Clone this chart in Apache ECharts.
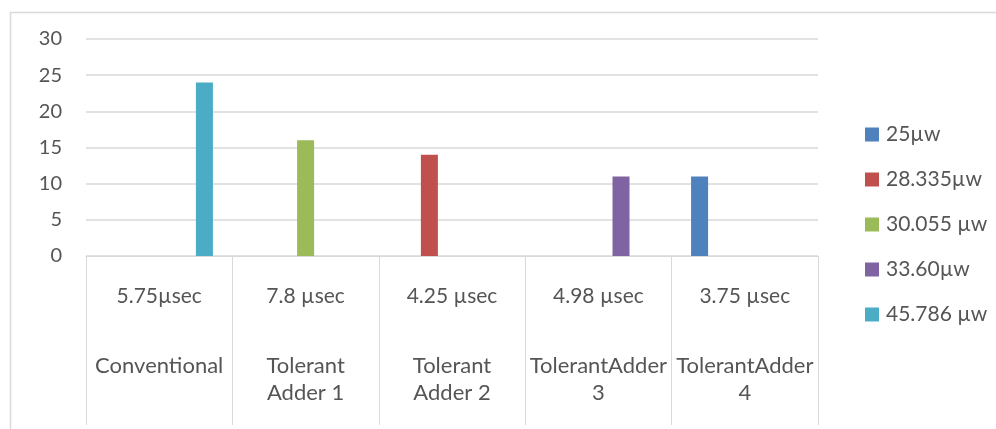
<!DOCTYPE html>
<html>
<head>
<meta charset="utf-8">
<script src="https://cdn.jsdelivr.net/npm/echarts@6/dist/echarts.min.js"></script>
<style>html,body{margin:0;padding:0;background:#fff}#c{width:996px;height:429px}</style>
</head>
<body>
<div id="c"></div>
<script>
const names = ['Conventional', 'Tolerant\nAdder 1', 'Tolerant\nAdder 2', 'TolerantAdder\n3', 'TolerantAdder\n4'];
const delays = ['5.75µsec', '7.8 µsec', '4.25 µsec', '4.98 µsec', '3.75 µsec'];
const seriesNames = ['25µw', '28.335µw', '30.055 µw', '33.60µw', '45.786 µw'];
const s25 = [0, 0, 0, 0, 11];
const s28 = [0, 0, 14, 0, 0];
const s30 = [0, 16, 0, 0, 0];
const s33 = [0, 0, 0, 11, 0];
const s45 = [24, 0, 0, 0, 0];
const yTicks = [0, 5, 10, 15, 20, 25, 30];
const colors = ['#4F81BD', '#C0504D', '#9BBB59', '#8064A2', '#4BACC6'];
const values = [s25, s28, s30, s33, s45];

const font = 'Lato, "Liberation Sans", sans-serif';
const txt = '#555555';
const chart = echarts.init(document.getElementById('c'));
chart.setOption({
  animation: false,
  backgroundColor: '#fff',
  color: colors,
  graphic: [{
    type: 'rect', left: 8, top: 10, shape: { x: 0, y: 0, width: 1100, height: 600 },
    style: { fill: 'none', stroke: '#d9d9d9', lineWidth: 1.5 }, silent: true
  }],
  grid: { left: 86, right: 178, top: 39, bottom: 173 },
  legend: {
    orient: 'vertical', left: 860, top: 119, icon: 'rect',
    itemWidth: 14, itemHeight: 14, itemGap: 24,
    textStyle: { fontFamily: font, fontSize: 21, color: txt, lineHeight: 21, padding: [0, 0, 0, 2] },
    data: seriesNames
  },
  xAxis: {
    type: 'category', data: names,
    axisLine: { show: true, lineStyle: { color: '#d9d9d9', width: 1 } },
    axisTick: { show: true, length: 169, interval: 0, alignWithLabel: false, lineStyle: { color: '#d9d9d9', width: 1 } },
    axisLabel: {
      interval: 0, margin: 27,
      formatter: function (v, i) { return '{d|' + delays[i] + '}\n{s| }\n{n|' + v + '}'; },
      rich: {
        d: { fontFamily: font, fontSize: 21, color: txt, lineHeight: 27 },
        s: { fontFamily: font, fontSize: 10, lineHeight: 42 },
        n: { fontFamily: font, fontSize: 22, color: txt, lineHeight: 27 }
      }
    }
  },
  yAxis: {
    type: 'value', min: yTicks[0], max: yTicks[yTicks.length - 1], interval: 5,
    axisLine: { show: false }, axisTick: { show: false },
    axisLabel: { fontFamily: font, fontSize: 20, color: txt, margin: 24 },
    splitLine: { lineStyle: { color: '#d9d9d9', width: 1.5 } }
  },
  series: seriesNames.map((n, k) => ({
    name: n, type: 'bar', data: values[k], barWidth: 17, barGap: '33%',
    itemStyle: { color: colors[k] }
  }))
});
</script>
</body>
</html>
